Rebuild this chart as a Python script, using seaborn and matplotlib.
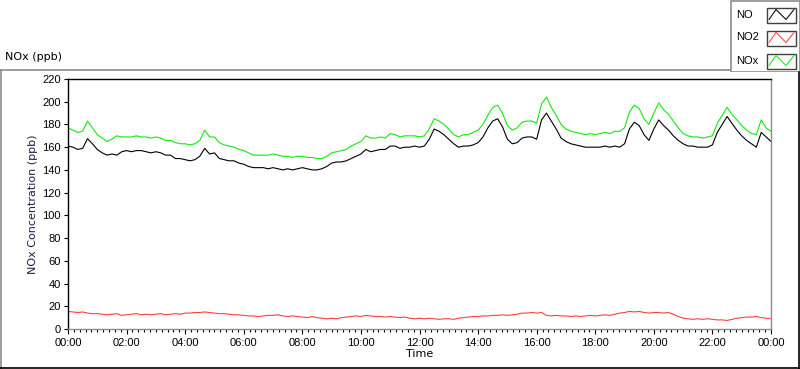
import numpy as np
import pandas as pd
import matplotlib.pyplot as plt
import seaborn as sns
from matplotlib.ticker import MultipleLocator
from matplotlib.lines import Line2D
from matplotlib.patches import Rectangle

# readings every 10 minutes, 00:00 -> 24:00 (one row per hour)
no_vals = [
    161, 160, 158, 159, 167.5, 163,
    158, 155, 153, 154, 153, 156,
    157, 156, 157, 157, 156, 155,
    156, 155, 153, 153, 150, 150,
    149, 148, 149, 152, 159, 154,
    155, 150, 149, 148, 148, 146,
    145, 143, 142, 142, 142, 141,
    142, 141, 140, 141, 140, 141,
    142, 141, 140, 140, 141, 143,
    146, 147, 147, 148, 150, 152,
    154, 158, 156, 157, 158, 158,
    161, 161, 159, 160, 160, 161,
    160, 161, 167, 176, 174, 171,
    167, 163, 160, 161, 161, 162,
    164, 169, 177, 183, 185, 178,
    167, 163, 164, 168, 169, 169,
    167, 184, 190, 183, 176, 168,
    165, 163, 162, 161, 160, 160,
    160, 160, 161, 160, 161, 160,
    163, 176, 182, 179, 171, 166,
    176, 184, 179, 175, 170, 166,
    163, 161, 161, 160, 160, 160,
    162, 173, 180, 187, 181, 175,
    170, 166, 163, 160, 173, 169,
    165,
]
no2_vals = [
    15.5, 15, 14.5, 15, 14, 13.5,
    13.5, 13, 12.5, 13, 13.5, 12,
    12.5, 13, 13.5, 12.5, 13, 12.5,
    13, 13.5, 12.5, 13, 13.5, 13,
    14, 14, 14.5, 14.5, 15, 14.5,
    14, 13.5, 13.5, 13, 12.5, 12.5,
    12, 11.5, 11.5, 11, 11.5, 12,
    12, 12.5, 11.5, 11, 11.5, 11,
    10.5, 10, 11, 10, 9.5, 9,
    9.5, 9, 10, 10.5, 11, 11.5,
    11, 12, 11.5, 11, 11, 10.5,
    11, 10.5, 10, 10.5, 9.5, 9,
    9.5, 9, 9.5, 9, 8.5, 9,
    9, 8.5, 9.5, 10, 10.5, 11,
    11, 11.5, 11.5, 12, 12, 12.5,
    12, 12.5, 13, 14, 14, 14.5,
    14, 14.5, 12, 11.5, 12, 11.5,
    11.5, 11, 11.5, 11, 11.5, 12,
    11.5, 12, 12.5, 12, 13, 14,
    14.5, 15.5, 15, 15.5, 14.5, 14,
    14.5, 14.5, 14, 14.5, 13, 11,
    9.5, 9, 8.5, 9, 8.5, 9,
    8.5, 8, 8, 7.5, 8.5, 9.5,
    10, 10.5, 10.5, 11, 10, 9.5,
    9,
]
nox_vals = [
    177, 175, 173, 174, 183, 177,
    171, 168, 165, 167, 170, 169,
    169, 169, 170, 169, 169, 168,
    169, 168, 166, 166, 164, 163,
    163, 162, 163, 166, 175, 169,
    169, 164, 162, 161, 160, 158,
    157, 155, 153, 153, 153, 153,
    154, 153, 152, 152, 151, 152,
    152, 151, 151, 150, 150, 152,
    155, 156, 157, 158, 161, 163,
    165, 170, 168, 168, 169, 168,
    172, 171, 169, 170, 170, 170,
    169, 170, 176, 185, 183, 180,
    176, 171, 169, 171, 171, 173,
    175, 180, 188, 195, 197, 190,
    179, 175, 177, 182, 183, 183,
    181, 198, 204, 195, 188, 180,
    176, 174, 173, 172, 171, 172,
    171, 172, 173, 172, 174, 174,
    177, 191, 197, 194, 185, 180,
    190, 199, 193, 189, 183, 177,
    172, 170, 169, 169, 168, 169,
    170, 181, 188, 195, 189, 184,
    179, 175, 172, 171, 184, 177,
    174,
]
hours = np.linspace(0, 24, len(no_vals))
tick_labels = ["00:00", "02:00", "04:00", "06:00", "08:00", "10:00", "12:00",
               "14:00", "16:00", "18:00", "20:00", "22:00", "00:00"]
series_names = ["NO", "NO2", "NOx"]
colors = {"NO": "#000000", "NO2": "#ff4040", "NOx": "#10ea10"}

df = pd.DataFrame({
    "Time": np.tile(hours, 3),
    "ppb": no_vals + no2_vals + nox_vals,
    "series": np.repeat(series_names, len(hours)),
})

sns.set_theme(style="white", rc={"text.color": "black", "xtick.color": "black",
                                 "ytick.color": "black", "axes.labelcolor": "black"})
plt.rcParams["font.family"] = ["Liberation Sans", "DejaVu Sans"]
plt.rcParams["font.size"] = 8
wide_font = ["DejaVu Sans"]

fig = plt.figure(figsize=(8, 3.69), dpi=100)
ax = fig.add_axes([68 / 800, 40 / 369, 703 / 800, 250 / 369])
sns.lineplot(data=df, x="Time", y="ppb", hue="series", palette=colors,
             linewidth=0.8, legend=False, ax=ax)

ax.set_xlim(0, 24)
ax.set_ylim(0, 220)
ax.set_xticks(np.arange(0, 25, 2))
ax.set_xticklabels(tick_labels)
ax.xaxis.set_minor_locator(MultipleLocator(0.2))
ax.set_yticks(np.arange(0, 221, 20))
ax.tick_params(axis="x", which="major", bottom=True, direction="out", length=3.5,
               width=0.8, color="black", pad=3, labelsize=8, labelcolor="black")
ax.tick_params(axis="x", which="minor", bottom=True, direction="out", length=2.2,
               width=0.8, color="black")
ax.tick_params(axis="y", left=True, direction="out", length=3, width=0.8,
               color="black", pad=2, labelsize=8, labelcolor="black")
ax.set_xlabel("Time", fontsize=8, labelpad=1, family=wide_font, color="black")
ax.set_ylabel("NOx Concentration (ppb)", fontsize=8, color="#1e1e44", labelpad=3,
              family=wide_font)
for side in ["left", "top"]:
    ax.spines[side].set_color("black")
    ax.spines[side].set_linewidth(1.0)
for side in ["right", "bottom"]:
    ax.spines[side].set_color("#8c8c8c")
    ax.spines[side].set_linewidth(1.0)

# outer frame of the graph panel
fig.add_artist(Line2D([0, 730 / 800], [1 - 69.5 / 369] * 2, color="#8c8c8c", lw=1.2,
                      transform=fig.transFigure))
fig.add_artist(Line2D([0.5 / 800] * 2, [0, 1 - 69.5 / 369], color="#8c8c8c", lw=1.2,
                      transform=fig.transFigure))
fig.add_artist(Line2D([0, 1], [0.6 / 369] * 2, color="black", lw=1.2,
                      transform=fig.transFigure))
fig.add_artist(Line2D([799.4 / 800] * 2, [0, 1 - 72 / 369], color="black", lw=1.2,
                      transform=fig.transFigure))
fig.text(5 / 800, 1 - 57 / 369, "NOx (ppb)", fontsize=8, va="center", ha="left",
         family=wide_font, color="black")

# legend panel
lax = fig.add_axes([730 / 800, 1 - 72 / 369, 70 / 800, 72 / 369])
lax.set_xlim(0, 70)
lax.set_ylim(72, 0)
lax.axis("off")
lax.add_patch(Rectangle((0.5, 0.5), 69, 71, fill=False, edgecolor="#8c8c8c", lw=1.2))
for i, name in enumerate(series_names):
    yc = 14.5 + i * 23
    lax.text(6, yc, name, fontsize=8, va="center", ha="left", color="black")
    lax.add_patch(Rectangle((37, yc - 7), 29, 15, fill=False, edgecolor="#404040", lw=1.0))
    lax.plot([39, 46, 56, 64], [yc + 5, yc - 5, yc + 5, yc - 5], color=colors[name], lw=0.75)

fig.savefig("out.png", dpi=100)
